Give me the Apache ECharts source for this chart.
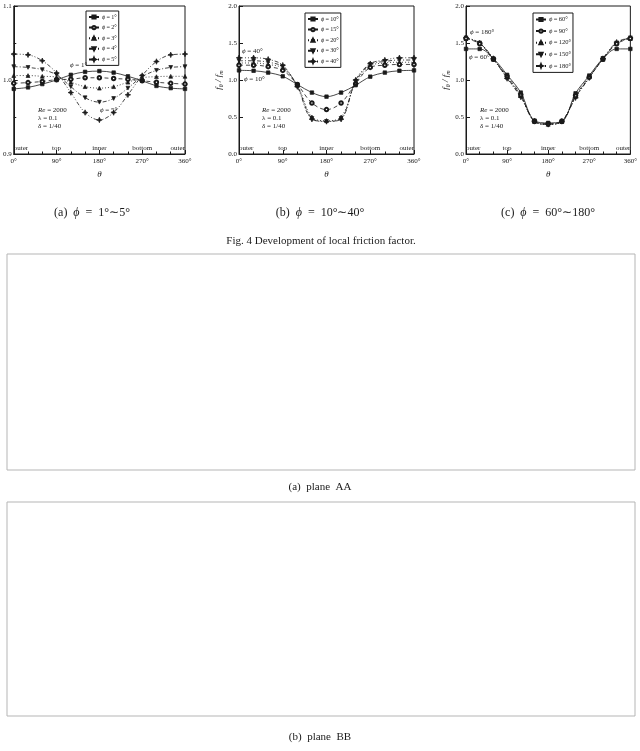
<!DOCTYPE html>
<html>
<head>
<meta charset="utf-8">
<script src="https://cdn.jsdelivr.net/npm/echarts@6/dist/echarts.min.js"></script>
<style>
  html, body { margin: 0; padding: 0; background: #fff; }
  #chart { width: 640px; height: 751px; }
</style>
</head>
<body>
<div id="chart"></div>
<script>
// ---- data ----
const theta = [0, 30, 60, 90, 120, 150, 180, 210, 240, 270, 300, 330, 360];
const thetaTicks = ['0°', '90°', '180°', '270°', '360°'];
const regions = ['outer', 'top', 'inner', 'bottom', 'outer'];

// (a) phi = 1..5
const phiA = ['1°', '2°', '3°', '4°', '5°'];
const fA1 = [0.988, 0.990, 0.9945, 1.000, 1.007, 1.011, 1.012, 1.010, 1.005, 0.999, 0.992, 0.989, 0.988];
const fA2 = [0.9955, 0.9965, 0.998, 1.0005, 1.001, 1.003, 1.003, 1.002, 1.001, 0.999, 0.997, 0.9955, 0.9945];
const fA3 = [1.006, 1.006, 1.005, 1.004, 0.997, 0.991, 0.989, 0.991, 0.997, 1.003, 1.0045, 1.005, 1.005];
const fA4 = [1.018, 1.017, 1.014, 1.007, 0.991, 0.976, 0.970, 0.975, 0.989, 1.0045, 1.013, 1.017, 1.018];
const fA5 = [1.035, 1.034, 1.026, 1.0095, 0.983, 0.956, 0.946, 0.956, 0.980, 1.006, 1.025, 1.034, 1.035];

// (b) phi = 10..40
const phiB = ['10°', '15°', '20°', '30°', '40°'];
const fB10 = [1.13, 1.125, 1.10, 1.05, 0.94, 0.83, 0.775, 0.83, 0.93, 1.045, 1.10, 1.125, 1.13];
const fB15 = [1.20, 1.20, 1.18, 1.13, 0.94, 0.69, 0.60, 0.69, 0.95, 1.17, 1.20, 1.21, 1.21];
const fB20 = [1.23, 1.23, 1.21, 1.16, 0.93, 0.50, 0.45, 0.50, 0.96, 1.19, 1.23, 1.24, 1.24];
const fB30 = [1.26, 1.26, 1.24, 1.18, 0.92, 0.48, 0.44, 0.48, 0.98, 1.21, 1.25, 1.27, 1.27];
const fB40 = [1.30, 1.30, 1.28, 1.20, 0.91, 0.47, 0.44, 0.47, 1.00, 1.22, 1.27, 1.30, 1.30];

// (c) phi = 60..180
const phiC = ['60°', '90°', '120°', '150°', '180°'];
const fC60 = [1.42, 1.42, 1.29, 1.07, 0.83, 0.45, 0.42, 0.44, 0.82, 1.06, 1.29, 1.42, 1.42];
const fC90 = [1.56, 1.49, 1.28, 1.05, 0.80, 0.44, 0.41, 0.44, 0.79, 1.04, 1.28, 1.49, 1.56];
const fC120 = [1.56, 1.50, 1.28, 1.04, 0.79, 0.44, 0.40, 0.44, 0.78, 1.04, 1.28, 1.50, 1.56];
const fC150 = [1.57, 1.50, 1.28, 1.03, 0.78, 0.445, 0.40, 0.445, 0.77, 1.03, 1.29, 1.50, 1.57];
const fC180 = [1.57, 1.50, 1.29, 1.02, 0.77, 0.445, 0.40, 0.445, 0.76, 1.03, 1.29, 1.51, 1.57];

// ---- styling ----
const SERIF = 'Liberation Serif, Times New Roman, serif';
const INK = '#1a1a1a';
const STAR = 'path://M0,-10L2.8,-2.8L10,0L2.8,2.8L0,10L-2.8,2.8L-10,0L-2.8,-2.8Z';
const marks = [
  { symbol: 'rect', rotate: 0, type: 'solid', size: 3.5 },
  { symbol: 'emptyCircle', rotate: 0, type: [4, 3], size: 3.5 },
  { symbol: 'triangle', rotate: 0, type: [1, 2], size: 3.8 },
  { symbol: 'triangle', rotate: 180, type: [4, 2, 1, 2], size: 3.8 },
  { symbol: STAR, rotate: 0, type: [4, 2, 1, 2, 1, 2], size: 5.5 }
];

const grids = [
  { left: 11, top: 6, width: 174, height: 148 },
  { left: 239, top: 6, width: 175, height: 148 },
  { left: 466, top: 6, width: 174, height: 148 }
];

function xAxes(g) {
  return [{
    gridIndex: g, type: 'value', min: 0, max: 360, interval: 90,
    axisLine: { show: true, lineStyle: { color: INK, width: 1 } },
    axisTick: { inside: true, length: 4, lineStyle: { color: INK } },
    minorTick: { show: true, splitNumber: 3, length: 2.5, lineStyle: { color: INK } },
    splitLine: { show: false },
    axisLabel: { formatter: v => thetaTicks[Math.round(v / 90)], fontSize: 7, color: INK, fontFamily: SERIF, margin: 4 },
    name: 'θ', nameLocation: 'middle', nameGap: 16,
    nameTextStyle: { fontStyle: 'italic', fontFamily: SERIF, fontSize: 9, color: INK }
  }, {
    gridIndex: g, type: 'value', min: 0, max: 360, interval: 90, position: 'bottom',
    axisLine: { show: false }, axisTick: { show: false }, splitLine: { show: false },
    axisLabel: {
      inside: true, margin: 2, fontSize: 7, color: INK, fontFamily: SERIF,
      formatter: v => regions[Math.round(v / 90)],
      alignMinLabel: 'left', alignMaxLabel: 'right'
    }
  }];
}

function yAxis(g, min, max, interval, minor, named) {
  return {
    gridIndex: g, type: 'value', min: min, max: max, interval: interval,
    axisLine: { show: true, lineStyle: { color: INK, width: 1 } },
    axisTick: { inside: true, length: 4, lineStyle: { color: INK } },
    minorTick: { show: minor, splitNumber: 2, length: 2.5, lineStyle: { color: INK } },
    splitLine: { show: false },
    axisLabel: { formatter: v => v.toFixed(1), fontSize: 7, color: INK, fontFamily: SERIF, margin: 2 },
    name: named ? '{f|f}{s|θ}{f| / f}{s|m}' : '', nameLocation: 'middle', nameGap: 11,
    nameTextStyle: {
      color: INK,
      rich: {
        f: { fontStyle: 'italic', fontFamily: SERIF, fontSize: 9, color: INK },
        s: { fontStyle: 'italic', fontFamily: SERIF, fontSize: 6, color: INK, padding: [5, 0, 0, 0] }
      }
    }
  };
}

function makeSeries(g, names, values) {
  return names.map((n, i) => ({
    name: n, type: 'line', xAxisIndex: g * 2, yAxisIndex: g,
    smooth: 0.35, symbol: marks[i].symbol, symbolRotate: marks[i].rotate,
    symbolSize: marks[i].size,
    lineStyle: { color: INK, width: 0.8, type: marks[i].type },
    itemStyle: { color: INK, borderColor: INK, borderWidth: 0.7 },
    data: theta.map((t, k) => [t, values[i][k]]),
    z: 5 - i
  }));
}

function legend(names, left, top, size) {
  return {
    data: names, left: left, top: top, orient: 'vertical',
    itemWidth: 10, itemHeight: 4, itemGap: 4.6, padding: [3, 2, 3, 2],
    borderColor: INK, borderWidth: 1,
    formatter: n => '{i|ϕ}\u2009=\u2009' + n,
    textStyle: {
      fontSize: size, fontFamily: SERIF, color: INK, padding: [0, 0, 0, -2],
      rich: { i: { fontStyle: 'italic', fontFamily: SERIF, fontSize: size, color: INK } }
    }
  };
}

function note(x, y, txt) {
  return {
    type: 'text', left: x, top: y,
    style: {
      text: txt, fill: INK, fontSize: 7, fontFamily: SERIF,
      rich: { i: { fontStyle: 'italic', fontSize: 7, fontFamily: SERIF, fill: INK } }
    }
  };
}

function params(x, y) {
  return [note(x, y, '{i|Re} = 2000'), note(x, y + 8, 'λ = 0.1'), note(x, y + 16, 'δ = 1/40')];
}

function caption(cx, y, txt, size) {
  return {
    type: 'text', x: cx, y: y,
    style: {
      text: txt, fill: INK, fontSize: size, fontFamily: SERIF, align: 'center', verticalAlign: 'middle',
      rich: { i: { fontStyle: 'italic', fontSize: size, fontFamily: SERIF, fill: INK } }
    }
  };
}

const chart = echarts.init(document.getElementById('chart'), null, { renderer: 'canvas' });
chart.setOption({
  animation: false,
  backgroundColor: '#fff',
  grid: grids.map(g => Object.assign({ show: true, borderColor: INK, borderWidth: 1, containLabel: false }, g)),
  xAxis: [].concat(xAxes(0), xAxes(1), xAxes(2)),
  yAxis: [
    yAxis(0, 0.9, 1.1, 0.1, true, false),
    yAxis(1, 0, 2, 0.5, false, true),
    yAxis(2, 0, 2, 0.5, false, true)
  ],
  legend: [
    legend(phiA, 86, 11, 6.2),
    legend(phiB, 305, 13, 6.2),
    legend(phiC, 533, 13, 6.5)
  ],
  series: [].concat(
    makeSeries(0, phiA, [fA1, fA2, fA3, fA4, fA5]),
    makeSeries(1, phiB, [fB10, fB15, fB20, fB30, fB40]),
    makeSeries(2, phiC, [fC60, fC90, fC120, fC150, fC180])
  ),
  graphic: [].concat(
    [note(70, 62, '{i|ϕ} = 1°'), note(100, 107, '{i|ϕ} = 5°')],
    params(38, 107),
    [note(242, 48, '{i|ϕ} = 40°'), note(244, 76, '{i|ϕ} = 10°')],
    params(262, 107),
    [note(470, 29, '{i|ϕ} = 180°'), note(469, 54, '{i|ϕ} = 60°')],
    params(480, 107),
    [
      caption(92, 213, '(a)  {i|ϕ}  =  1°∼5°', 12),
      caption(320, 213, '(b)  {i|ϕ}  =  10°∼40°', 12),
      caption(548, 213, '(c)  {i|ϕ}  =  60°∼180°', 12),
      caption(321, 241, 'Fig. 4 Development of local friction factor.', 11),
      { type: 'rect', shape: { x: 7, y: 254, width: 628, height: 216 }, style: { fill: 'none', stroke: '#b5b5b5', lineWidth: 1 } },
      caption(320, 487, '(a)  plane  AA', 11),
      { type: 'rect', shape: { x: 7, y: 502, width: 628, height: 214 }, style: { fill: 'none', stroke: '#b5b5b5', lineWidth: 1 } },
      caption(320, 737, '(b)  plane  BB', 11)
    ]
  )
});
</script>
</body>
</html>
